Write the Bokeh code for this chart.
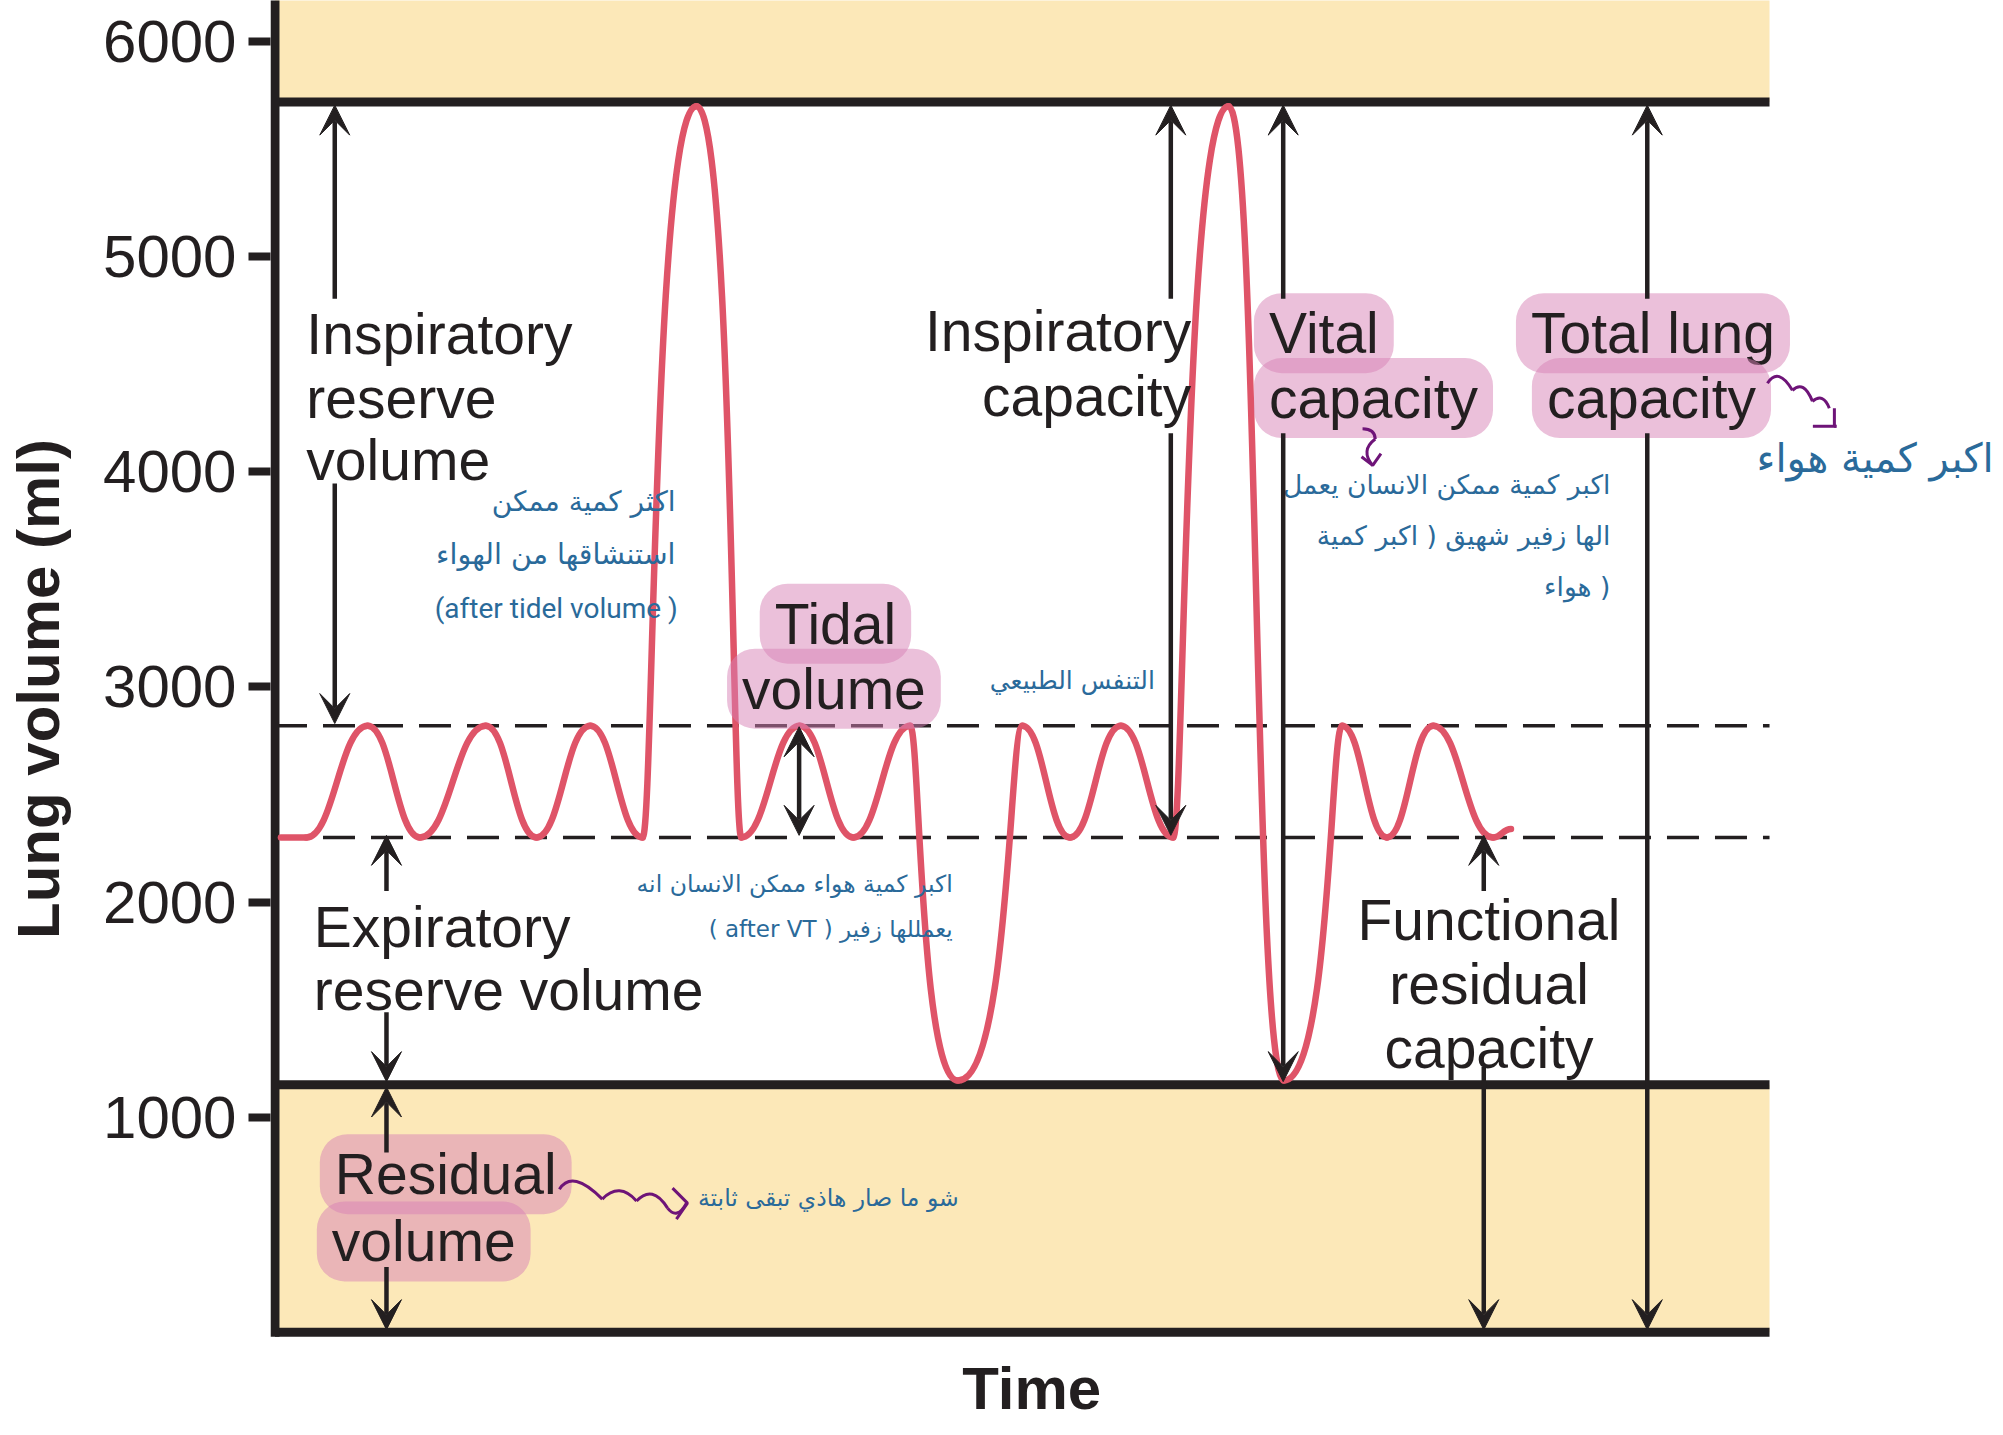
import numpy as np
from bokeh.plotting import figure
from bokeh.models import ColumnDataSource, Range1d, FixedTicker, Arrow, VeeHead
from bokeh.core.properties import value
from bokeh.embed import file_html
from bokeh.resources import INLINE

# ---------------- data ----------------
# spirogram trace: key turning points (time in arbitrary units, volume in ml)
breath_t = [0.4, 2.1, 6.2, 9.7, 14.1, 17.5, 21.1, 24.6, 28.2, 31.2, 35.1, 38.7, 42.5,
            45.7, 50.0, 53.2, 56.6, 60.1, 63.8, 67.5, 71.4, 74.4, 77.5, 81.5, 82.7]
breath_v = [2300, 2300, 2820, 2300, 2820, 2300, 2820, 2300, 5700, 2300, 2820, 2300, 2820,
            1170, 2820, 2300, 2820, 2300, 5700, 1170, 2820, 2300, 2820, 2300, 2340]

y_ticks = [1000, 2000, 3000, 4000, 5000, 6000]
tidal_levels = [2820, 2300]          # dashed lines (end-inspiration / end-expiration)
limit_levels = [5720, 1150, 0]       # TLC line, RV line, zero line
time_span = [0, 100]

# arrows: x, start, end (head at end)
arrow_x = [4.0, 4.0, 7.46, 7.46, 7.46, 7.46, 59.94, 59.94, 67.46, 67.46, 91.82, 91.82, 80.88, 80.88]
arrow_y0 = [4805, 3946, 2051, 1488, 836, 303, 4805, 4180, 4805, 4180, 4805, 4180, 2051, 1233]
arrow_y1 = [5705, 2830, 2310, 1165, 1140, 12, 5705, 2310, 5705, 1165, 5705, 12, 2310, 12]
tidal_arrow = (35.07, 2310, 2815)

# black labels
plain_left = dict(x=[2.1, 2.1, 2.1, 2.6, 2.6],
                  y=[4639, 4343, 4053, 1885, 1589],
                  text=["Inspiratory", "reserve", "volume", "Expiratory", "reserve volume"])
plain_right = dict(x=[61.3, 61.3], y=[4657, 4355], text=["Inspiratory", "capacity"])
plain_center = dict(x=[81.23, 81.23, 81.23], y=[1915, 1618, 1322],
                    text=["Functional", "residual", "capacity"])
hl_left = dict(x=[65.5, 65.5, 3.0, 2.8], y=[4645, 4343, 735, 422],
               text=["Vital", "capacity", "Residual", "volume"])
hl_center = dict(x=[37.5, 37.4, 92.2, 92.1], y=[3294, 2992, 4645, 4343],
                 text=["Tidal", "volume", "Total lung", "capacity"])

# Arabic / handwritten notes
note_right = dict(x=[26.8, 26.8, 45.35, 45.35, 89.35, 89.35, 89.35, 45.75],
                  y=[3863, 3614, 2086, 1873, 3940, 3703, 3466, 623],
                  size=["28px", "28.5px", "23.5px", "23px", "26.5px", "26.5px", "26.5px", "23.5px"],
                  text=["اكثر كمية ممكن", "استنشاقها من الهواء",
                        "اكبر كمية هواء ممكن الانسان انه", "( after VT ) يعمللها زفير",
                        "اكبر كمية ممكن الانسان يعمل", "الها زفير شهيق ( اكبر كمية", "هواء )",
                        "شو ما صار هاذي تبقى ثابتة"])
note_en = dict(x=[26.95], y=[3366], text=["(after tidel volume )"])
note_center = dict(x=[53.35], y=[3028], text=["التنفس الطبيعي"])
note_big = dict(x=[115.0], y=[4065], text=["اكبر كمية هواء"])

# purple hand-drawn squiggles (quadratic arcs) and arrow hooks
sq_x0 = [19.03, 21.9, 24.19, 26.27, 99.86, 101.53, 102.87, 72.77, 73.62]
sq_y0 = [665, 619, 610, 577, 4412, 4379, 4328, 4201, 4153]
sq_x1 = [21.9, 24.19, 26.27, 27.53, 101.53, 102.87, 104.0, 73.62, 73.45]
sq_y1 = [619, 610, 577, 600, 4379, 4328, 4296, 4153, 4030]
sq_cx = [19.9, 23.05, 25.26, 26.9, 100.6, 102.3, 103.6, 73.6, 72.6]
sq_cy = [760, 700, 690, 520, 4490, 4430, 4370, 4200, 4100]
hook_xs = [[26.6, 27.6, 26.86], [104.34, 104.34, 104.48], [102.9, 104.48], [72.7, 73.45, 74.0]]
hook_ys = [[670, 600, 526], [4296, 4212, 4212], [4212, 4212], [4070, 4030, 4085]]

# ---------------- styles ----------------
INK = "#231F20"
RED = "#DF5468"
BAND = "#FCE8B8"
PINK = "#D781B5"
BLUE = "#2A6A9A"
PURPLE = "#6E1478"
SANS = value("Liberation Sans")
ARAB = value("DejaVu Sans")

p = figure(width=1995, height=1427, output_backend="svg", toolbar_location=None,
           x_range=Range1d(-0.3, 115.12), y_range=Range1d(-443, 6191.5),
           x_axis_location=None, min_border_left=270, min_border_right=0,
           min_border_top=0, min_border_bottom=0)
p.outline_line_color = None
p.grid.visible = False
p.background_fill_color = "white"

ax = p.yaxis[0]
ax.ticker = FixedTicker(ticks=y_ticks)
ax.axis_line_color = None
ax.major_tick_out = 22
ax.major_tick_in = 0
ax.major_tick_line_width = 8
ax.major_tick_line_color = INK
ax.minor_tick_line_color = None
ax.major_label_text_font = "Liberation Sans"
ax.major_label_text_font_size = "60px"
ax.major_label_text_color = INK
ax.major_label_standoff = 12
# leading no-break spaces lift the centred title to sit where the original one does
ax.axis_label = "\u00a0\u00a0\u00a0Lung volume (ml)"
ax.axis_label_standoff = 28
ax.axis_label_text_font = "Liberation Sans"
ax.axis_label_text_font_size = "60px"
ax.axis_label_text_font_style = "bold"
ax.axis_label_text_color = INK

# bands
p.quad(left=[time_span[0]] * 2, right=[time_span[1]] * 2,
       bottom=[limit_levels[0], limit_levels[2]], top=[6400, limit_levels[1]],
       fill_color=BAND, line_color=None)

# dashed tidal lines
p.segment(x0=[time_span[0]] * 2, x1=[time_span[1]] * 2, y0=tidal_levels, y1=tidal_levels,
          line_color=INK, line_width=3.5, line_dash="32 16")

# thick limit lines and left axis line
p.segment(x0=[time_span[0]] * 3, x1=[time_span[1]] * 3, y0=limit_levels, y1=limit_levels,
          line_color=INK, line_width=9)
p.segment(x0=[0], x1=[0], y0=[-21], y1=[6400], line_color=INK, line_width=9)

# spirogram trace as smooth bezier pieces between turning points
t = np.array(breath_t, dtype=float)
v = np.array(breath_v, dtype=float)
big = (v > 5000) | (v < 1500)
b0, b1 = big[:-1], big[1:]
k0 = np.where(b0 & b1, 0.55, np.where(b0, 0.8, np.where(b1, 0.2, 0.45)))
k1 = np.where(b0 & b1, 0.55, np.where(b1, 0.8, np.where(b0, 0.2, 0.45)))
dx = t[1:] - t[:-1]
curve = ColumnDataSource(dict(x0=t[:-1], y0=v[:-1], x1=t[1:], y1=v[1:],
                              cx0=t[:-1] + k0 * dx, cy0=v[:-1], cx1=t[1:] - k1 * dx, cy1=v[1:]))
p.bezier(x0="x0", y0="y0", x1="x1", y1="y1", cx0="cx0", cy0="cy0", cx1="cx1", cy1="cy1",
         source=curve, line_color=RED, line_width=6.5, line_cap="round")

# arrows
def head():
    return VeeHead(size=30, fill_color=INK, line_color=INK, line_width=1)

for xa, ya0, ya1 in zip(arrow_x, arrow_y0, arrow_y1):
    p.add_layout(Arrow(x_start=xa, y_start=ya0, x_end=xa, y_end=ya1, line_width=4.5,
                       line_color=INK, end=head()))
p.add_layout(Arrow(x_start=tidal_arrow[0], y_start=tidal_arrow[1], x_end=tidal_arrow[0],
                   y_end=tidal_arrow[2], line_width=4.5, line_color=INK, start=head(), end=head()))

# highlighted labels
for d, al in ((hl_left, "left"), (hl_center, "center")):
    p.text(x="x", y="y", text="text", source=ColumnDataSource(d), text_font=SANS,
           text_font_size="57px", text_color=INK, text_align=al, text_baseline="middle",
           background_fill_color=PINK, background_fill_alpha=0.5, border_radius=28,
           padding=dict(left=15, right=15, top=8, bottom=8))

# plain labels
for d, al in ((plain_left, "left"), (plain_right, "right"), (plain_center, "center")):
    p.text(x="x", y="y", text="text", source=ColumnDataSource(d), text_font=SANS,
           text_font_size="57px", text_color=INK, text_align=al, text_baseline="middle")

# notes
p.text(x="x", y="y", text="text", source=ColumnDataSource(note_right), text_font=ARAB,
       text_font_size="size", text_color=BLUE, text_align="right", text_baseline="middle")
p.text(x="x", y="y", text="text", source=ColumnDataSource(note_en), text_font=value("Roboto"),
       text_font_size="28px", text_color=BLUE, text_align="right", text_baseline="middle")
p.text(x="x", y="y", text="text", source=ColumnDataSource(note_center), text_font=ARAB,
       text_font_size="25px", text_color=BLUE, text_align="center", text_baseline="middle")
p.text(x="x", y="y", text="text", source=ColumnDataSource(note_big), text_font=ARAB,
       text_font_size="40px", text_color=BLUE, text_align="right", text_baseline="middle")

# squiggles
p.quadratic(x0=sq_x0, y0=sq_y0, x1=sq_x1, y1=sq_y1, cx=sq_cx, cy=sq_cy,
            line_color=PURPLE, line_width=3)
p.multi_line(xs=hook_xs, ys=hook_ys, line_color=PURPLE, line_width=3)

# x title
p.text(x=[50.63], y=[-262], text=["Time"], text_font=SANS, text_font_size="60px",
       text_font_style="bold", text_color=INK, text_align="center", text_baseline="middle")

open("out.html", "w").write(file_html(p, INLINE))
